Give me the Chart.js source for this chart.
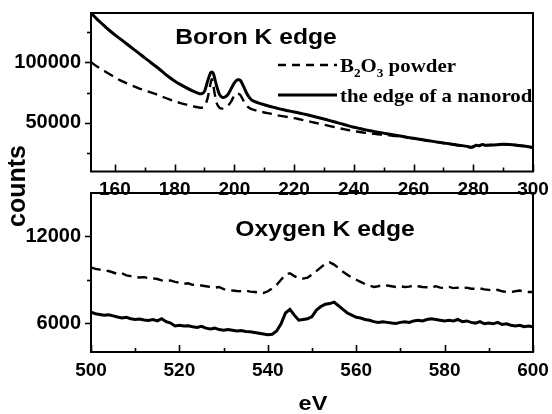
<!DOCTYPE html>
<html><head><meta charset="utf-8">
<script src="https://cdn.jsdelivr.net/npm/chart.js@4.4.0/dist/chart.umd.min.js"></script>
<style>
html,body{margin:0;padding:0;background:#fff;}
#wrap{position:relative;width:552px;height:414px;overflow:hidden;background:#fff;}
#wrap canvas{position:absolute;left:0;top:0;}
</style></head><body>
<div id="wrap"><canvas id="c1" width="552" height="414"></canvas><canvas id="c2" width="552" height="414"></canvas></div>
<script>
// ---------- Boron K edge (top panel) ----------
const boronEnergy = [152,154,156,158,160,162,164,166,168,170,172,174,176,178,180,182,184,186,188,189,190,191,192,192.5,193,194,195,196,197,198,199,200,201,202,203,204,205,206,208,210,212,214,216,218,220,222,224,226,228,230,232,234,236,238,240,242,244,246,248,250,252,254,256,258,260,262,264,266,268,270,272,274,276,278,279,280,281,282,283,284,286,288,290,292,294,296,298,300];
const boronPowder = [100000,96500,93500,90500,87500,84800,82500,80500,78500,76800,75200,73500,71500,69500,67800,66300,65000,63800,62800,62500,63500,70000,82000,86000,80000,67000,62500,61800,62500,64500,68000,72500,74300,73000,68500,64500,62300,61200,59800,58600,57600,56500,55600,54800,54000,52900,51800,50700,49600,48500,47400,46300,45200,44200,43300,42500,41800,41200,40700,40200,39700,39200,38600,37900,37200,36400,35700,34900,34200,33400,32700,32000,31300,30600,29900,30300,31500,31000,32100,31600,31800,32000,32400,32200,31800,31200,30500,29800];
const boronNanorod = [140500,135500,131000,126500,122500,118800,115000,111200,107500,103500,99800,96000,92000,88000,84500,81500,78800,76300,74300,74000,76000,84000,91000,92000,90500,81000,73500,71000,71500,74000,78500,83000,85500,85000,80500,75000,71000,68500,66500,65000,63500,62300,61000,60000,59000,58000,56900,55700,54500,53200,51900,50500,49200,47800,46500,45400,44300,43300,42400,41600,40700,39800,39000,38100,37300,36500,35700,35000,34200,33500,32800,32000,31400,30700,30000,30400,31600,31200,32200,31700,31800,32100,32500,32300,31900,31200,30600,29800];
const boronXTicks = [160,170,180,190,200,210,220,230,240,250,260,270,280,290,300];
const boronXLabels = [160,180,200,220,240,260,280,300];
const boronYTicks = [25000,50000,75000,100000,125000];
const boronYLabels = [50000,100000];

// ---------- Oxygen K edge (bottom panel) ----------
const oxygenEnergy = [500,501,502,503,504,505,506,507,508,509,510,511,512,513,514,515,516,517,518,519,520,521,522,523,524,525,526,527,528,529,530,531,532,533,534,535,536,537,538,539,540,541,542,543,544,545,546,547,548,549,550,551,552,553,554,555,556,557,558,559,560,561,562,563,564,565,566,567,568,569,570,571,572,573,574,575,576,577,578,579,580,581,582,583,584,585,586,587,588,589,590,591,592,593,594,595,596,597,598,599,600];
const oxygenPowder = [9850,9750,9700,9620,9600,9500,9400,9450,9300,9250,9200,9150,9180,9100,9100,9050,8950,8900,8950,8850,8800,8720,8750,8650,8620,8600,8550,8500,8450,8500,8350,8300,8250,8220,8200,8250,8180,8150,8120,8080,8200,8400,8650,9000,9350,9450,9250,9100,9080,9150,9350,9600,9850,10100,10200,10050,9800,9550,9350,9150,9000,8850,8700,8600,8500,8550,8650,8600,8550,8500,8550,8500,8520,8600,8550,8500,8480,8450,8550,8450,8430,8500,8420,8450,8400,8450,8380,8370,8400,8330,8300,8250,8300,8200,8150,8150,8200,8250,8180,8150,8150];
const oxygenNanorod = [6750,6650,6600,6550,6580,6500,6420,6350,6400,6300,6250,6280,6220,6180,6250,6150,6300,6100,6000,5800,5850,5800,5820,5750,5700,5780,5650,5600,5650,5550,5500,5550,5500,5450,5480,5420,5400,5350,5300,5250,5200,5230,5450,5950,6700,6950,6550,6200,6250,6300,6450,6900,7150,7300,7350,7450,7200,6950,6700,6550,6400,6350,6250,6200,6100,6050,6100,6050,6000,5980,6050,6100,6050,6150,6200,6150,6250,6300,6250,6200,6150,6200,6150,6250,6100,6150,6050,6000,6100,5950,6000,5950,6050,5900,5950,5850,5800,5850,5750,5800,5750];
const oxygenXTicks = [500,510,520,530,540,550,560,570,580,590,600];
const oxygenXLabels = [500,520,540,560,580,600];
const oxygenYTicks = [6000,9000,12000];
const oxygenYLabels = [6000,12000];

const seriesNames = ['B2O3 powder', 'the edge of a nanorod'];

const SANS = '"Liberation Sans", Arial, sans-serif';
const SERIF = '"Liberation Serif", "Times New Roman", serif';
const xTickFont = {family: SANS, weight: 'bold', size: 19};
const yTickFont = {family: SANS, weight: 'bold', size: 20};

function pts(xs, ys){ return xs.map((x,i)=>({x:x, y:ys[i]})); }

const powderStyle = {borderColor:'#000', borderWidth:2.4, borderDash:[10,6], pointRadius:0, tension:0.25, fill:false};
const rodStyle = {borderColor:'#000', borderWidth:3, borderDash:[], pointRadius:0, tension:0.25, fill:false};

const framePlugin = {
  id: 'frame',
  afterDraw(chart, args, opts) {
    const {ctx, chartArea: a, scales} = chart;
    ctx.save();
    ctx.strokeStyle = '#000';
    ctx.lineWidth = 2;
    ctx.strokeRect(a.left, a.top, a.right - a.left, a.bottom - a.top);
    ctx.lineWidth = 1.6;
    const xs = scales.x, ys = scales.y;
    xs.ticks.forEach(t => {
      const px = Math.round(xs.getPixelForValue(t.value)) + 0.5;
      const len = opts.xMajor.includes(t.value) ? 7 : 4;
      ctx.beginPath(); ctx.moveTo(px, a.bottom); ctx.lineTo(px, a.bottom - len); ctx.stroke();
    });
    ys.ticks.forEach(t => {
      const py = Math.round(ys.getPixelForValue(t.value)) + 0.5;
      const len = opts.yMajor.includes(t.value) ? 6 : 4;
      ctx.beginPath(); ctx.moveTo(a.left, py); ctx.lineTo(a.left - len, py); ctx.stroke();
    });
    ctx.fillStyle = '#000';
    (opts.texts || []).forEach(tx => {
      ctx.save();
      ctx.translate(tx.x, tx.y);
      if (tx.rot) ctx.rotate(tx.rot);
      ctx.scale(tx.sx || 1, 1);
      ctx.font = tx.font;
      ctx.textAlign = tx.align || 'center';
      ctx.textBaseline = 'alphabetic';
      ctx.fillText(tx.text, 0, 0);
      ctx.restore();
    });
    if (opts.legend) {
      const L = opts.legend;
      chart.data.datasets.forEach((ds, i) => {
        const ly = L.y[i];
        ctx.save();
        ctx.strokeStyle = ds.borderColor;
        ctx.lineWidth = ds.borderWidth;
        ctx.setLineDash(i === 0 ? [8,6] : []);
        ctx.beginPath(); ctx.moveTo(L.x0, ly); ctx.lineTo(L.x1, ly); ctx.stroke();
        ctx.restore();
        let x = L.tx;
        const by = ly + L.baseOff;
        L.parts[i].forEach(p => {
          ctx.save();
          ctx.translate(x, by + (p.sub ? 5 : 0));
          ctx.scale(1.1, 1);
          ctx.font = 'bold ' + (p.sub ? 12 : 19) + 'px ' + SERIF;
          ctx.textAlign = 'left';
          ctx.textBaseline = 'alphabetic';
          ctx.fillText(p.t, 0, 0);
          const w = ctx.measureText(p.t).width * 1.1;
          ctx.restore();
          x += w;
        });
      });
    }
    ctx.restore();
  }
};

function fixY(w){ return function(scale){ scale.width = w; scale.paddingTop = 0; scale.paddingBottom = 0; }; }
function fixX(h){ return function(scale){ scale.height = h; scale.paddingLeft = 0; scale.paddingRight = 0; }; }
function setTicks(arr){ return function(scale){ scale.ticks = arr.map(v => ({value: v})); }; }

new Chart(document.getElementById('c1'), {
  type: 'line',
  data: { datasets: [
    Object.assign({label: seriesNames[0], data: pts(boronEnergy, boronPowder)}, powderStyle),
    Object.assign({label: seriesNames[1], data: pts(boronEnergy, boronNanorod)}, rodStyle)
  ]},
  options: {
    responsive: false, animation: false,
    layout: {padding: {left: 0, top: 13, right: 19, bottom: 212.5}},
    plugins: {
      legend: {display: false}, tooltip: {enabled: false},
      frame: {
        xMajor: boronXLabels, yMajor: boronYLabels,
        texts: [
          {text: 'Boron K edge', x: 256, y: 44, font: 'bold 22px ' + SANS, sx: 1.12},
          {text: 'counts', x: 25, y: 186, rot: -Math.PI/2, font: 'bold 25px ' + SANS}
        ],
        legend: {x0: 278, x1: 337, y: [65, 95], tx: 340, baseOff: 7,
          parts: [[{t:'B'},{t:'2',sub:true},{t:'O'},{t:'3',sub:true},{t:' powder'}],[{t:'the edge of a nanorod'}]]}
      }
    },
    scales: {
      x: {type: 'linear', min: 152, max: 300,
        grid: {display: false, drawTicks: false}, border: {display: false},
        afterBuildTicks: setTicks(boronXTicks),
        ticks: {autoSkip: false, maxRotation: 0, padding: 7, color: '#000', font: xTickFont,
          callback: v => boronXLabels.includes(v) ? String(v) : ''},
        afterFit: fixX(30)},
      y: {type: 'linear', min: 10000, max: 140500,
        grid: {display: false, drawTicks: false}, border: {display: false},
        afterBuildTicks: setTicks(boronYTicks),
        ticks: {autoSkip: false, padding: 10, color: '#000', font: yTickFont,
          callback: v => boronYLabels.includes(v) ? String(v) : ''},
        afterFit: fixY(91)}
    }
  },
  plugins: [framePlugin]
});

new Chart(document.getElementById('c2'), {
  type: 'line',
  data: { datasets: [
    Object.assign({label: seriesNames[0], data: pts(oxygenEnergy, oxygenPowder)}, powderStyle, {tension: 0}),
    Object.assign({label: seriesNames[1], data: pts(oxygenEnergy, oxygenNanorod)}, rodStyle, {tension: 0})
  ]},
  options: {
    responsive: false, animation: false,
    layout: {padding: {left: 0, top: 193, right: 19, bottom: 32}},
    plugins: {
      legend: {display: false}, tooltip: {enabled: false},
      frame: {
        xMajor: oxygenXLabels, yMajor: oxygenYLabels,
        texts: [
          {text: 'Oxygen K edge', x: 325, y: 236, font: 'bold 22px ' + SANS, sx: 1.12},
          {text: 'eV', x: 313, y: 410, font: 'bold 21px ' + SANS, sx: 1.12}
        ]
      }
    },
    scales: {
      x: {type: 'linear', min: 500, max: 600,
        grid: {display: false, drawTicks: false}, border: {display: false},
        afterBuildTicks: setTicks(oxygenXTicks),
        ticks: {autoSkip: false, maxRotation: 0, padding: 7, color: '#000', font: xTickFont,
          callback: v => oxygenXLabels.includes(v) ? String(v) : ''},
        afterFit: fixX(30)},
      y: {type: 'linear', min: 4000, max: 15000,
        grid: {display: false, drawTicks: false}, border: {display: false},
        afterBuildTicks: setTicks(oxygenYTicks),
        ticks: {autoSkip: false, padding: 10, color: '#000', font: yTickFont,
          callback: v => oxygenYLabels.includes(v) ? String(v) : ''},
        afterFit: fixY(91)}
    }
  },
  plugins: [framePlugin]
});
</script>
</body></html>
